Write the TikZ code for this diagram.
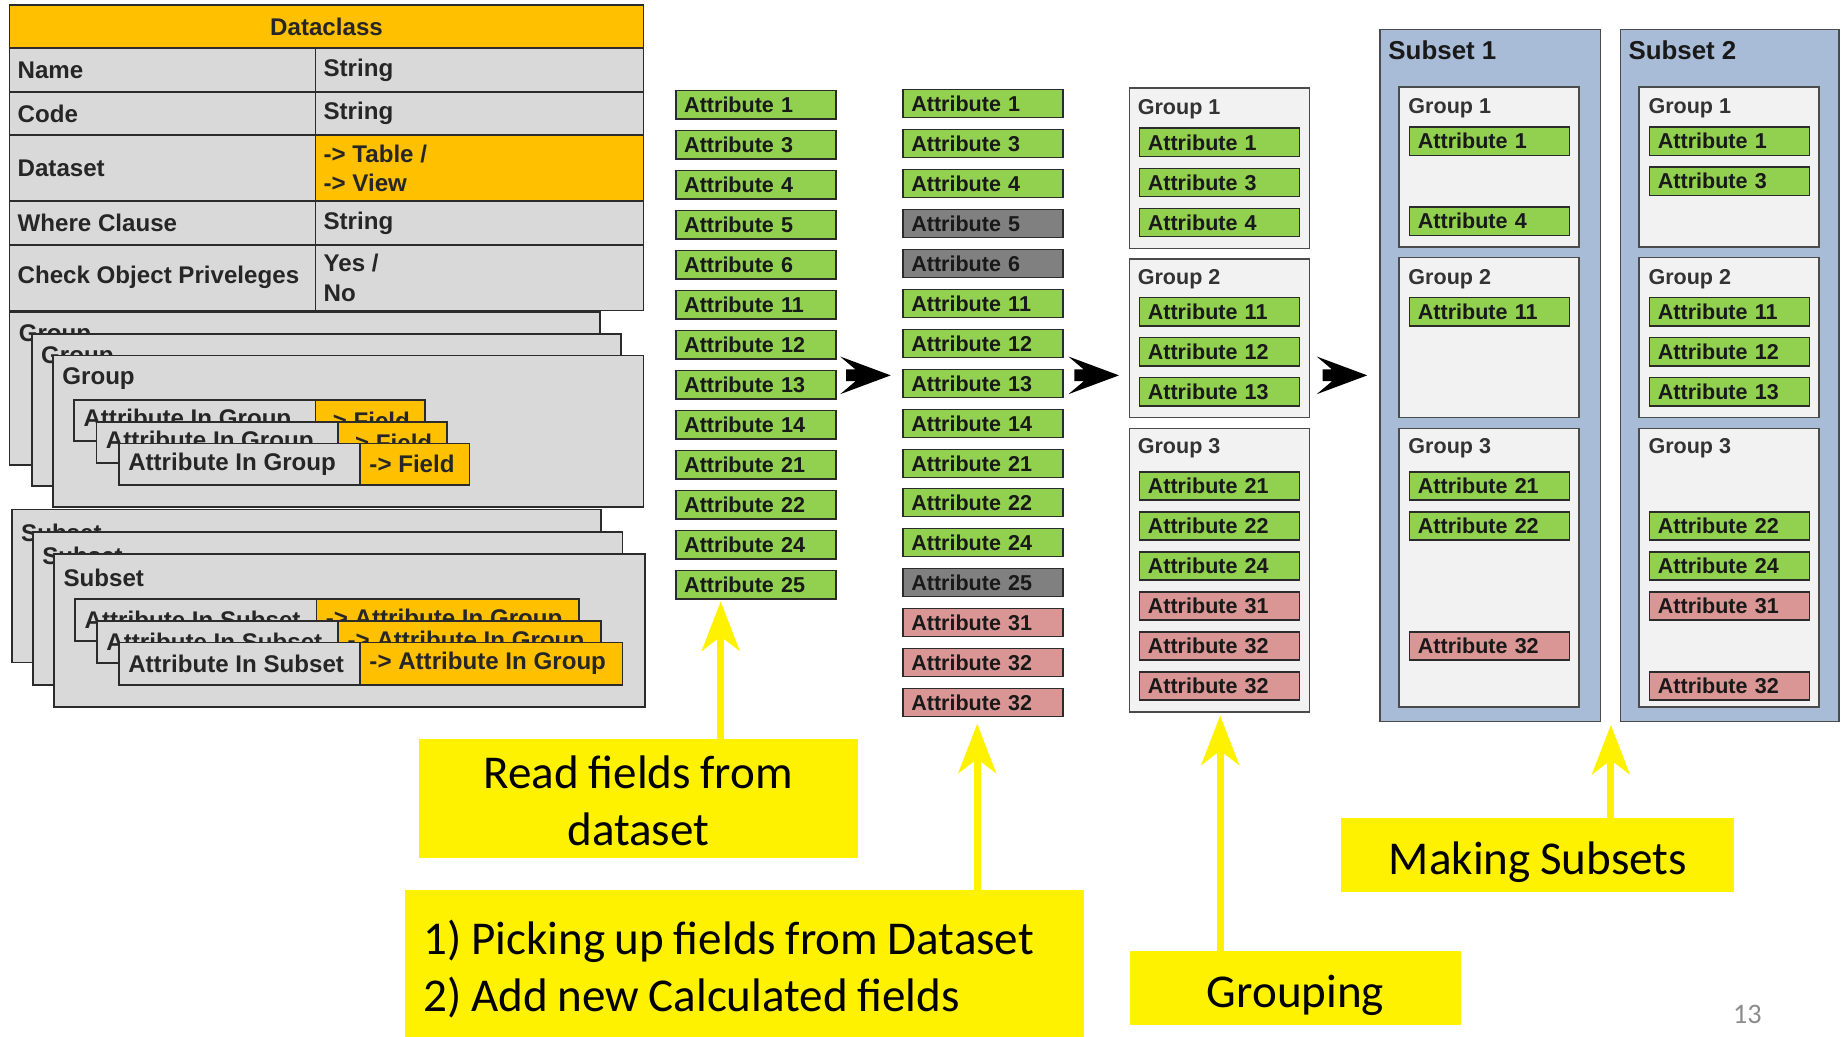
\documentclass[tikz,border=0pt]{standalone}
\usepackage{fontspec}
\setmainfont{Liberation Sans}
\newfontfamily\calib[WordSpace=0.9]{Carlito}
\usetikzlibrary{arrows.meta}
\definecolor{orng}{HTML}{FFC000}
\definecolor{cellgray}{HTML}{D9D9D9}
\definecolor{attgreen}{HTML}{92D050}
\definecolor{attgray}{HTML}{808080}
\definecolor{attpink}{HTML}{D99694}
\definecolor{grpfill}{HTML}{F2F2F2}
\definecolor{subfill}{HTML}{A8BCD7}
\definecolor{edge}{HTML}{2B2B2B}
\newcommand\trow[6]{%
 \node[tcell, fill=cellgray, minimum width=260pt, minimum height=#3pt] (#1L) at (138,#2) {};
 \node[tcell, fill=#4, minimum width=279pt, minimum height=#3pt] (#1R) at (407.5,#2) {};
 \node[ttext] (#1Lt) at ([xshift=7pt]#1L.west) {#5};
 \node[ttext] (#1Rt) at ([xshift=7pt]#1R.west) {#6};}
\newcommand\stkbox[6]{%
 \node[stackbox, minimum width=#4pt, minimum height=#5pt] (#1) at (#2,#3) {};
 \node[ttext] (#1t) at ([xshift=8pt, yshift=-20pt]#1.north west) {#6};}
\newcommand\stkrow[8]{%
 \node[stackbox, minimum width=#5pt, minimum height=#4pt, anchor=north west] (#1g) at (#2,#3) {};
 \node[stackbox, fill=orng, minimum width=#6pt, minimum height=#4pt, anchor=north west] (#1o) at (#1g.north east) {};
 \node[ttext] (#1gt) at ([xshift=8pt]#1g.west) {#7};
 \node[ttext] (#1ot) at ([xshift=8pt]#1o.west) {#8};}
\newcommand\attbox[5]{\node[attr, fill=#4] (#1) at (#2,#3) {Attribute #5};}
\newcommand\blkarrow[1]{\fill[black] (#1) -- ++(-43,-16) -- ++(13,11) -- ++(-8,0) -- ++(0,10) -- ++(8,0) -- ++(-13,11) -- cycle;}
\begin{document}
\begin{tikzpicture}[x=1pt,y=-1pt,
 every node/.style={outer sep=0pt},
 tcell/.style={draw=edge, line width=1.4pt, inner sep=0pt},
 ttext/.style={inner sep=0pt, anchor=west, align=left, font=\fontsize{20.5}{25}\selectfont\bfseries, text=black!85},
 stackbox/.style={draw=edge, line width=1.4pt, fill=cellgray, inner sep=0pt},
 attr/.style={draw=edge, line width=1.3pt, minimum height=24pt, text width=122pt, inner xsep=7pt, inner ysep=0pt, align=left, font=\fontsize{18.3}{20}\selectfont\bfseries, text=black!90},
 grp/.style={draw=edge!85, line width=1.3pt, fill=grpfill, inner sep=0pt, minimum width=153pt},
 glab/.style={inner sep=0pt, anchor=west, font=\fontsize{18.3}{20}\selectfont\bfseries, text=black!80},
 sub/.style={draw=edge!85, line width=1.3pt, fill=subfill, inner sep=0pt, minimum height=588pt},
 slab/.style={inner sep=0pt, anchor=west, font=\fontsize{22}{24}\selectfont\bfseries, text=black!90},
 ybox/.style={fill=yellow, inner sep=0pt},
 ytext/.style={inner sep=0pt, font=\calib\fontsize{40}{49}\selectfont, align=center},
 yarrow/.style={draw=yellow, line width=6pt, -{Stealth[length=42pt,width=32pt,inset=12pt]}},
]
\useasboundingbox (0,0) rectangle (1568,881);
% ---------------- Dataclass table
\node[tcell, fill=orng, minimum width=539pt, minimum height=37pt] (hdr) at (277.5,22.5) {};
\node[ttext, anchor=center] (hdrt) at (hdr) {Dataclass};
\trow{name}{59.5}{37}{cellgray}{Name}{String}
\trow{code}{96.5}{37}{cellgray}{Code}{String}
\trow{dset}{143}{56}{orng}{Dataset}{-> Table /\\-> View}
\trow{where}{189.5}{37}{cellgray}{Where Clause}{String}
\trow{check}{236}{56}{cellgray}{Check Object Priveleges}{Yes /\\No}
% ---------------- Group stack
\stkbox{gs1}{259}{330}{502}{130}{Group}
\stkbox{gs2}{277.5}{348.5}{501}{129}{Group}
\stkbox{gs3}{296}{366.5}{502}{129}{Group}
\stkrow{gr1}{63}{340}{35}{205}{93}{Attribute In Group}{-> Field}
\stkrow{gr2}{82}{358.5}{35}{205}{93}{Attribute In Group}{-> Field}
\stkrow{gr3}{101}{377}{35}{205}{93}{Attribute In Group}{-> Field}
% ---------------- Subset stack
\stkbox{ss1}{260.5}{498}{501}{130}{Subset}
\stkbox{ss2}{278.5}{517}{501}{130}{Subset}
\stkbox{ss3}{297}{536}{502}{130}{Subset}
\stkrow{sr1}{64}{509}{36}{205}{223}{Attribute In Subset}{-> Attribute In Group}
\stkrow{sr2}{82.5}{527.5}{36}{205}{223}{Attribute In Subset}{-> Attribute In Group}
\stkrow{sr3}{101}{546}{36}{205}{223}{Attribute In Subset}{-> Attribute In Group}
% ---------------- Column 1
\attbox{c1a1}{642.5}{89}{attgreen}{1}
\attbox{c1a2}{642.5}{123}{attgreen}{3}
\attbox{c1a3}{642.5}{157}{attgreen}{4}
\attbox{c1a4}{642.5}{191}{attgreen}{5}
\attbox{c1a5}{642.5}{225}{attgreen}{6}
\attbox{c1a6}{642.5}{259}{attgreen}{11}
\attbox{c1a7}{642.5}{293}{attgreen}{12}
\attbox{c1a8}{642.5}{327}{attgreen}{13}
\attbox{c1a9}{642.5}{361}{attgreen}{14}
\attbox{c1a10}{642.5}{395}{attgreen}{21}
\attbox{c1a11}{642.5}{429}{attgreen}{22}
\attbox{c1a12}{642.5}{463}{attgreen}{24}
\attbox{c1a13}{642.5}{497}{attgreen}{25}
% ---------------- Column 2
\attbox{c2a1}{835.5}{88}{attgreen}{1}
\attbox{c2a2}{835.5}{122}{attgreen}{3}
\attbox{c2a3}{835.5}{156}{attgreen}{4}
\attbox{c2a4}{835.5}{190}{attgray}{5}
\attbox{c2a5}{835.5}{224}{attgray}{6}
\attbox{c2a6}{835.5}{258}{attgreen}{11}
\attbox{c2a7}{835.5}{292}{attgreen}{12}
\attbox{c2a8}{835.5}{326}{attgreen}{13}
\attbox{c2a9}{835.5}{360}{attgreen}{14}
\attbox{c2a10}{835.5}{394}{attgreen}{21}
\attbox{c2a11}{835.5}{427}{attgreen}{22}
\attbox{c2a12}{835.5}{461}{attgreen}{24}
\attbox{c2a13}{835.5}{495}{attgray}{25}
\attbox{c2a14}{835.5}{529}{attpink}{31}
\attbox{c2a15}{835.5}{563}{attpink}{32}
\attbox{c2a16}{835.5}{597}{attpink}{32}
% ---------------- Column 3 groups
\node[grp, minimum height=136pt] (cg1) at (1036.5,143) {};
\node[glab] (cg1t) at (967,93) {Group 1};
\attbox{c3a1}{1036.5}{121}{attgreen}{1}
\attbox{c3a2}{1036.5}{155}{attgreen}{3}
\attbox{c3a3}{1036.5}{189}{attgreen}{4}
\node[grp, minimum height=135pt] (cg2) at (1036.5,287.5) {};
\node[glab] (cg2t) at (967,237) {Group 2};
\attbox{c3a4}{1036.5}{265}{attgreen}{11}
\attbox{c3a5}{1036.5}{299}{attgreen}{12}
\attbox{c3a6}{1036.5}{333}{attgreen}{13}
\node[grp, minimum height=241pt] (cg3) at (1036.5,484.5) {};
\node[glab] (cg3t) at (967,381) {Group 3};
\attbox{c3a7}{1036.5}{413}{attgreen}{21}
\attbox{c3a8}{1036.5}{447}{attgreen}{22}
\attbox{c3a9}{1036.5}{481}{attgreen}{24}
\attbox{c3a10}{1036.5}{515}{attpink}{31}
\attbox{c3a11}{1036.5}{549}{attpink}{32}
\attbox{c3a12}{1036.5}{583}{attpink}{32}
% ---------------- Subset 1
\node[sub, minimum width=187pt] (s1) at (1266.5,319) {};
\node[slab] (s1t) at (1180,43) {Subset 1};
\node[grp, minimum height=136pt] (s1g1) at (1265.5,142) {};
\node[glab] (s1g1t) at (1197,92) {Group 1};
\attbox{s1a1}{1266}{120}{attgreen}{1}
\attbox{s1a2}{1266}{188}{attgreen}{4}
\node[grp, minimum height=136pt] (s1g2) at (1265.5,287) {};
\node[glab] (s1g2t) at (1197,237) {Group 2};
\attbox{s1a3}{1266}{265}{attgreen}{11}
\node[grp, minimum height=237pt] (s1g3) at (1265.5,482.5) {};
\node[glab] (s1g3t) at (1197,381) {Group 3};
\attbox{s1a4}{1266}{413}{attgreen}{21}
\attbox{s1a5}{1266}{447}{attgreen}{22}
\attbox{s1a6}{1266}{549}{attpink}{32}
% ---------------- Subset 2
\node[sub, minimum width=186pt] (s2) at (1470,319) {};
\node[slab] (s2t) at (1384,43) {Subset 2};
\node[grp, minimum height=136pt] (s2g1) at (1469.5,142) {};
\node[glab] (s2g1t) at (1401,92) {Group 1};
\attbox{s2a1}{1470}{120}{attgreen}{1}
\attbox{s2a2}{1470}{154}{attgreen}{3}
\node[grp, minimum height=136pt] (s2g2) at (1469.5,287) {};
\node[glab] (s2g2t) at (1401,237) {Group 2};
\attbox{s2a3}{1470}{265}{attgreen}{11}
\attbox{s2a4}{1470}{299}{attgreen}{12}
\attbox{s2a5}{1470}{333}{attgreen}{13}
\node[grp, minimum height=237pt] (s2g3) at (1469.5,482.5) {};
\node[glab] (s2g3t) at (1401,381) {Group 3};
\attbox{s2a6}{1470}{447}{attgreen}{22}
\attbox{s2a7}{1470}{481}{attgreen}{24}
\attbox{s2a8}{1470}{515}{attpink}{31}
\attbox{s2a9}{1470}{583}{attpink}{32}
% ---------------- black arrows
\coordinate (k1) at (757,319);
\coordinate (k2) at (951,319);
\coordinate (k3) at (1162,319);
\blkarrow{k1}
\blkarrow{k2}
\blkarrow{k3}
% ---------------- yellow boxes
\node[ybox, minimum width=373pt, minimum height=101pt] (ya) at (542.5,678.5) {};
\node[ytext] (yat) at ([yshift=-2pt]ya.center) {Read fields from\\dataset};
\node[ybox, minimum width=577pt, minimum height=125pt] (yb) at (632.5,818.5) {};
\node[ytext, anchor=west, align=left] (ybt) at ([xshift=16pt, yshift=-5pt]yb.west) {1) Picking up fields from Dataset\\2) Add new Calculated fields};
\node[ybox, minimum width=282pt, minimum height=63pt] (yc) at (1101,839.5) {};
\node[ytext] (yct) at ([yshift=-6pt]yc.center) {Grouping};
\node[ybox, minimum width=334pt, minimum height=63pt] (yd) at (1307,726.5) {};
\node[ytext] (ydt) at ([yshift=-6pt]yd.center) {Making Subsets};
\node[inner sep=0pt, font=\calib\fontsize{24}{24}\selectfont, text=black!45] (pg) at (1485,862) {13};
% ---------------- yellow arrows
\coordinate (t1) at ([xshift=38pt, yshift=-2pt]c1a13.south west);
\coordinate (t2) at ([xshift=63pt, yshift=-6pt]c2a16.south west);
\coordinate (t3) at ([xshift=77pt, yshift=-3pt]cg3.south west);
\coordinate (t4) at ([xshift=9pt, yshift=-3pt]s1.south east);
\draw[yarrow] (ya.north -| t1) -- (t1);
\draw[yarrow] (yb.north -| t2) -- (t2);
\draw[yarrow] (yc.north -| t3) -- (t3);
\draw[yarrow] (yd.north -| t4) -- (t4);
\end{tikzpicture}
\end{document}
